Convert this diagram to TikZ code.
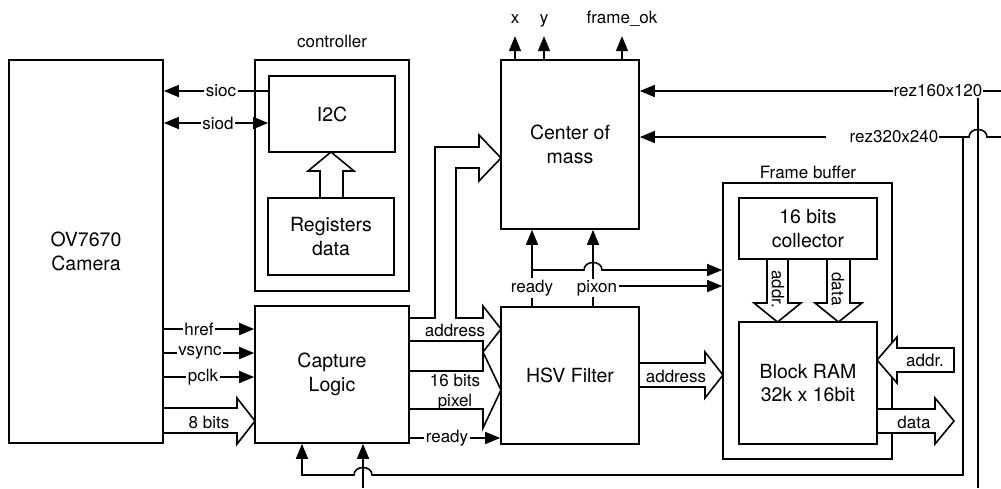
\documentclass[tikz,border=0pt]{standalone}
\usepackage{fontspec}
\setmainfont{TeX Gyre Heros}
\usetikzlibrary{arrows.meta}
\newcommand\mainfs{\fontsize{19.5}{23.5}\selectfont}
\newcommand\smallfs{\fontsize{17}{20}\selectfont}
\begin{document}
\begin{tikzpicture}[x=1pt,y=-1pt,
  box/.style={draw, line width=1.7pt, inner sep=0pt, font=\mainfs, align=center},
  lbl/.style={font=\smallfs, inner sep=1.5pt, align=center},
  wire/.style={line width=1.6pt},
  arr/.style={wire, -{Triangle[length=15pt,width=12pt]}},
  fat/.style={draw, line width=1.6pt, fill=white, line join=miter},
]
\useasboundingbox (0,0) rectangle (1001,488);

% boxes
\node[box, minimum width=154, minimum height=383] (cam) at (86,251.5) {OV7670\\Camera};
\node[box, minimum width=154, minimum height=231] (ctrl) at (332,175.5) {};
\node[lbl, anchor=base] (ctrllbl) at (332,47) {controller};
\node[box, minimum width=126, minimum height=76] (i2c) at (332,114) {I2C};
\node[box, minimum width=126, minimum height=77] (reg) at (331,236.5) {Registers\\data};
\node[box, minimum width=154, minimum height=137] (cap) at (332,374.5) {Capture\\Logic};
\node[box, minimum width=138, minimum height=169] (com) at (570,144.5) {Center of\\mass};
\node[box, minimum width=138, minimum height=137] (hsv) at (570,375.5) {HSV Filter};
\node[box, minimum width=169, minimum height=276] (fb) at (807.5,321) {};
\node[lbl, anchor=base] (fblbl) at (808,178) {Frame buffer};
\node[box, minimum width=138, minimum height=61] (col) at (808,228.5) {16 bits\\collector};
\node[box, minimum width=138, minimum height=122] (ram) at (808,383) {Block RAM\\32k x 16bit};

% controller <-> camera
\node[lbl] (sioc) at (221,91) {sioc};
\node[lbl] (siod) at (218,123) {siod};
\draw[wire] (i2c.west|-sioc) -- (sioc.east);
\draw[arr] (sioc.west) -- (cam.east|-sioc);
\draw[arr] (siod.east) -- (i2c.west|-siod);
\draw[arr] (siod.west) -- (cam.east|-siod);

% registers -> i2c
\draw[fat] (320,198) -- (320,171) -- (308,171) -- (331,152) -- (354,171) -- (343,171) -- (343,198) -- cycle;

% camera -> capture
\node[lbl] (href) at (199,329) {href};
\node[lbl] (vsync) at (200,353) {vsync};
\node[lbl] (pclk) at (203,377) {pclk};
\foreach \s in {href,vsync,pclk}{
  \draw[wire] (cam.east|-\s) -- (\s.west);
  \draw[arr] (\s.east) -- (cap.west|-\s);
}
\draw[fat] (163,408) -- (237,408) -- (237,398) -- (255,421) -- (237,444) -- (237,433) -- (163,433) -- cycle;
\node[lbl] (b8) at (209,422) {8 bits};

% capture -> center of mass / hsv
\draw[fat] (409,318) -- (435,318) -- (435,147) -- (479,147) -- (479,135) -- (501,158) -- (479,181) -- (479,168)
  -- (456,168) -- (456,318) -- (483,318) -- (483,306) -- (501,329) -- (483,352) -- (483,341) -- (409,341) -- cycle;
\node[lbl] (addr1) at (455,330) {address};
\draw[fat] (409,371) -- (483,371) -- (483,352) -- (501,390) -- (483,428) -- (483,409) -- (409,409) -- cycle;
\node[lbl] (pix16) at (455,392) {16 bits\\pixel};
\node[lbl] (rdy1) at (447,438) {ready};
\draw[wire] (cap.east|-rdy1) -- (rdy1.west);
\draw[arr] (rdy1.east) -- (hsv.west|-rdy1);

% hsv -> frame buffer
\draw[fat] (639,363) -- (705,363) -- (705,352) -- (723,375) -- (705,398) -- (705,387) -- (639,387) -- cycle;
\node[lbl] (addr2) at (676,376) {address};

% hsv -> center of mass, frame buffer
\coordinate (rv) at (532,288);
\coordinate (pv) at (593,288);
\coordinate (rj) at (532,270);
\coordinate (pj) at (593,286);
\draw[arr] (hsv.north -| rv) -- (com.south -| rv);
\draw[arr] (hsv.north -| pv) -- (com.south -| pv);
\draw[arr] (rj) -- (584,270) .. controls (584,260) and (602,260) .. (602,270) -- (fb.west |- rj);
\draw[arr] (pj) -- (fb.west |- pj);
\node[lbl, fill=white] (rdy2) at (532,288) {ready};
\node[lbl, fill=white] (pix) at (597,288) {pixon};

% collector -> ram
\draw[fat] (767,259) -- (767,303) -- (754,303) -- (777.5,322) -- (801,303) -- (788,303) -- (788,259) -- cycle;
\node[lbl, rotate=-90] (ca) at (778,289) {addr.};
\draw[fat] (827,259) -- (827,303) -- (815,303) -- (838.5,322) -- (862,303) -- (850,303) -- (850,259) -- cycle;
\node[lbl, rotate=-90] (cd) at (838,289) {data};

% ram io
\draw[fat] (954,348) -- (897,348) -- (897,337) -- (877,360) -- (897,383) -- (897,372) -- (954,372) -- cycle;
\node[lbl] (raddr) at (925,360) {addr.};
\draw[fat] (877,409) -- (935,409) -- (935,398) -- (954,421) -- (935,444) -- (935,433) -- (877,433) -- cycle;
\node[lbl] (rdata) at (914,422) {data};

% outputs of center of mass
\node[lbl, anchor=base] (xo) at (515,23) {x};
\node[lbl, anchor=base] (yo) at (544,23) {y};
\node[lbl, anchor=base] (fo) at (622,23) {frame\_ok};
\foreach \o in {xo,yo,fo}{
  \draw[arr] (com.north -| \o) -- ++(0,-23);
}

% resolution inputs
\coordinate (e160) at (1001,91);
\coordinate (b3) at (978,488);
\draw[arr] (e160) -- (com.east |- e160);
\draw[wire] (b3) -- (b3 |- e160);
\node[lbl, fill=white, inner sep=1pt] (r160) at (938,91) {rez160x120};

\coordinate (e320) at (1001,137);
\coordinate (j320) at (963,137);
\coordinate (b1) at (302,475);
\coordinate (b2) at (363,488);
\draw[arr] (e320) -- (987,137) .. controls (987,127) and (969,127) .. (969,137) -- (j320)
  -- (j320 |- b1) -- (372,475) .. controls (372,465) and (354,465) .. (354,475) -- (b1) -- (b1 |- cap.south);
\node[lbl, inner sep=0pt] (r320) at (894,137) {rez320x240};
\coordinate (g320) at (826,137);
\draw[wire] (j320) -- (r320.east);
\draw[arr] (g320) -- (com.east |- g320);
\draw[arr] (b2) -- (b2 |- cap.south);
\end{tikzpicture}
\end{document}
